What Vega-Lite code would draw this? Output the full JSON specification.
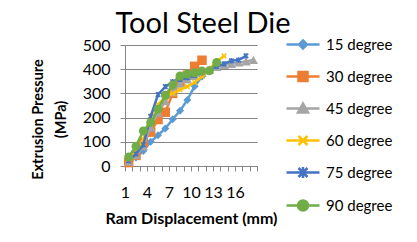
{
  "$schema": "https://vega.github.io/schema/vega-lite/v6.json",
  "autosize": {"type": "none"},
  "padding": {"left": 125, "top": 45, "right": 160, "bottom": 76},
  "width": 132,
  "height": 121,
  "background": "white",
  "config": {
    "font": "Lato",
    "view": {"stroke": null},
    "axis": {"labelFont": "Lato", "titleFont": "Lato", "labelColor": "#000000", "titleColor": "#000000"}
  },
  "title": {
    "text": "Tool Steel Die",
    "font": "Lato",
    "fontSize": 29,
    "fontWeight": "normal",
    "color": "#000000",
    "anchor": "middle",
    "baseline": "alphabetic",
    "offset": -29,
    "dx": 12
  },
  "data": {
    "values": [
      {"series": "15 degree", "x": 1, "y": 15}, {"series": "15 degree", "x": 2, "y": 35}, {"series": "15 degree", "x": 3, "y": 62}, {"series": "15 degree", "x": 4, "y": 100}, {"series": "15 degree", "x": 5, "y": 127}, {"series": "15 degree", "x": 6, "y": 155}, {"series": "15 degree", "x": 7, "y": 193}, {"series": "15 degree", "x": 8, "y": 228}, {"series": "15 degree", "x": 9, "y": 273}, {"series": "15 degree", "x": 10, "y": 330}, {"series": "15 degree", "x": 11, "y": 370}, {"series": "15 degree", "x": 12, "y": 395}, {"series": "15 degree", "x": 13, "y": 418},
      {"series": "30 degree", "x": 1, "y": 14}, {"series": "30 degree", "x": 2, "y": 44}, {"series": "30 degree", "x": 3, "y": 98}, {"series": "30 degree", "x": 4, "y": 140}, {"series": "30 degree", "x": 5, "y": 192}, {"series": "30 degree", "x": 6, "y": 222}, {"series": "30 degree", "x": 7, "y": 300}, {"series": "30 degree", "x": 8, "y": 345}, {"series": "30 degree", "x": 9, "y": 375}, {"series": "30 degree", "x": 10, "y": 412}, {"series": "30 degree", "x": 11, "y": 437},
      {"series": "45 degree", "x": 1, "y": 18}, {"series": "45 degree", "x": 2, "y": 45}, {"series": "45 degree", "x": 3, "y": 82}, {"series": "45 degree", "x": 4, "y": 160}, {"series": "45 degree", "x": 5, "y": 220}, {"series": "45 degree", "x": 6, "y": 268}, {"series": "45 degree", "x": 7, "y": 305}, {"series": "45 degree", "x": 8, "y": 340}, {"series": "45 degree", "x": 9, "y": 358}, {"series": "45 degree", "x": 10, "y": 372}, {"series": "45 degree", "x": 11, "y": 385}, {"series": "45 degree", "x": 12, "y": 398}, {"series": "45 degree", "x": 13, "y": 410}, {"series": "45 degree", "x": 14, "y": 418}, {"series": "45 degree", "x": 15, "y": 422}, {"series": "45 degree", "x": 16, "y": 428}, {"series": "45 degree", "x": 17, "y": 432}, {"series": "45 degree", "x": 18, "y": 438},
      {"series": "60 degree", "x": 1, "y": 30}, {"series": "60 degree", "x": 2, "y": 62}, {"series": "60 degree", "x": 3, "y": 110}, {"series": "60 degree", "x": 4, "y": 205}, {"series": "60 degree", "x": 5, "y": 255}, {"series": "60 degree", "x": 6, "y": 283}, {"series": "60 degree", "x": 7, "y": 300}, {"series": "60 degree", "x": 8, "y": 315}, {"series": "60 degree", "x": 9, "y": 328}, {"series": "60 degree", "x": 10, "y": 345}, {"series": "60 degree", "x": 11, "y": 370}, {"series": "60 degree", "x": 12, "y": 400}, {"series": "60 degree", "x": 13, "y": 432}, {"series": "60 degree", "x": 14, "y": 455},
      {"series": "75 degree", "x": 1, "y": 22}, {"series": "75 degree", "x": 2, "y": 50}, {"series": "75 degree", "x": 3, "y": 88}, {"series": "75 degree", "x": 4, "y": 205}, {"series": "75 degree", "x": 5, "y": 295}, {"series": "75 degree", "x": 6, "y": 328}, {"series": "75 degree", "x": 7, "y": 348}, {"series": "75 degree", "x": 8, "y": 358}, {"series": "75 degree", "x": 9, "y": 365}, {"series": "75 degree", "x": 10, "y": 375}, {"series": "75 degree", "x": 11, "y": 385}, {"series": "75 degree", "x": 12, "y": 400}, {"series": "75 degree", "x": 13, "y": 412}, {"series": "75 degree", "x": 14, "y": 422}, {"series": "75 degree", "x": 15, "y": 435}, {"series": "75 degree", "x": 16, "y": 438}, {"series": "75 degree", "x": 17, "y": 455},
      {"series": "90 degree", "x": 1, "y": 37}, {"series": "90 degree", "x": 2, "y": 82}, {"series": "90 degree", "x": 3, "y": 145}, {"series": "90 degree", "x": 4, "y": 180}, {"series": "90 degree", "x": 5, "y": 235}, {"series": "90 degree", "x": 6, "y": 292}, {"series": "90 degree", "x": 7, "y": 335}, {"series": "90 degree", "x": 8, "y": 372}, {"series": "90 degree", "x": 9, "y": 380}, {"series": "90 degree", "x": 10, "y": 385}, {"series": "90 degree", "x": 11, "y": 393}, {"series": "90 degree", "x": 12, "y": 393}, {"series": "90 degree", "x": 13, "y": 428}
    ]
  },
  "encoding": {
    "x": {
      "field": "x", "type": "quantitative",
      "scale": {"domain": [0.5, 18.5], "nice": false, "zero": false},
      "axis": {
        "values": [0.5, 1.5, 2.5, 3.5, 4.5, 5.5, 6.5, 7.5, 8.5, 9.5, 10.5, 11.5, 12.5, 13.5, 14.5, 15.5, 16.5, 17.5, 18.5],
        "labelExpr": "((datum.value - 0.5) % 3 == 0 && datum.value < 17) ? format(datum.value + 0.5, 'd') : ''",
        "labelDx": 3.67,
        "labelFontSize": 16,
        "labelPadding": 13,
        "labelAngle": 0,
        "labelAlign": "center",
        "labelOverlap": false,
        "labelBound": false,
        "labelFlush": false,
        "grid": false,
        "domainColor": "#868686",
        "tickColor": "#868686",
        "tickSize": 5,
        "title": "Ram Displacement  (mm)",
        "titleFontSize": 16,
        "titleFontWeight": "bold",
        "titlePadding": 10
      }
    },
    "y": {
      "field": "y", "type": "quantitative",
      "scale": {"domain": [0, 500], "nice": false},
      "axis": {
        "values": [0, 100, 200, 300, 400, 500],
        "labelFontSize": 16,
        "labelPadding": 10,
        "labelFlush": false,
        "labelBound": false,
        "grid": true,
        "gridColor": "#868686",
        "domainColor": "#868686",
        "tickColor": "#868686",
        "tickSize": 5,
        "title": ["Extrusion Pressure", "(MPa)"],
        "titleFontSize": 14.5,
        "titleFontWeight": "bold",
        "titleLineHeight": 23,
        "titleAlign": "center",
        "titleBaseline": "top",
        "titleX": -94,
        "titleY": 74
      }
    },
    "color": {
      "field": "series", "type": "nominal",
      "scale": {
        "domain": ["15 degree", "30 degree", "45 degree", "60 degree", "75 degree", "90 degree"],
        "range": ["#5B9BD5", "#ED7D31", "#A5A5A5", "#FFC000", "#4472C4", "#70AD47"]
      },
      "legend": {
        "orient": "none",
        "legendX": 166.5,
        "legendY": -12,
        "title": null,
        "padding": 0,
        "symbolSize": 400,
        "symbolStrokeWidth": 2.5,
        "rowPadding": 11,
        "labelOffset": 11.5,
        "labelFont": "Lato",
        "labelFontSize": 15,
        "labelColor": "#000000",
        "labelLimit": 200,
        "encode": {
          "symbols": {
            "update": {
              "shape": {"signal": "datum.value == '15 degree' ? 'M-1.65,0H1.65M0,-0.4L0.4,0L0,0.4L-0.4,0Z' : datum.value == '30 degree' ? 'M-1.65,0H1.65M-0.45,-0.45H0.45V0.45H-0.45Z' : datum.value == '45 degree' ? 'M-1.65,0H1.65M0,-0.5L0.5,0.4L-0.5,0.4Z' : datum.value == '60 degree' ? 'M-1.65,0H1.65M-0.45,-0.45L0.45,0.45M-0.45,0.45L0.45,-0.45' : datum.value == '75 degree' ? 'M-1.65,0H1.65M-0.45,-0.45L0.45,0.45M-0.45,0.45L0.45,-0.45M0,-0.55V0.55' : 'M-1.65,0H1.65M0.5,0A0.5,0.5 0 1 1 -0.5,0A0.5,0.5 0 1 1 0.5,0Z'"},
              "fill": {"signal": "scale('color', datum.value)"},
              "stroke": {"signal": "scale('color', datum.value)"},
              "strokeWidth": {"value": 2.5},
              "opacity": {"value": 1}
            }
          }
        }
      }
    }
  },
  "layer": [
    {"transform": [{"filter": "datum.series == '15 degree'"}], "layer": [
      {"mark": {"type": "line", "strokeWidth": 2.5}},
      {"mark": {"type": "point", "shape": "diamond", "size": 64, "filled": true, "opacity": 1}}
    ]},
    {"transform": [{"filter": "datum.series == '30 degree'"}], "layer": [
      {"mark": {"type": "line", "strokeWidth": 2.5}},
      {"mark": {"type": "point", "shape": "square", "size": 90, "filled": true, "opacity": 1}}
    ]},
    {"transform": [{"filter": "datum.series == '45 degree'"}], "layer": [
      {"mark": {"type": "line", "strokeWidth": 2.5}},
      {"mark": {"type": "point", "shape": "triangle-up", "size": 90, "filled": true, "opacity": 1}}
    ]},
    {"transform": [{"filter": "datum.series == '60 degree'"}], "layer": [
      {"mark": {"type": "line", "strokeWidth": 2.5}},
      {"mark": {"type": "point", "shape": "M-1,-1L1,1M-1,1L1,-1", "size": 20, "filled": false, "strokeWidth": 1.5, "opacity": 1}}
    ]},
    {"transform": [{"filter": "datum.series == '75 degree'"}], "layer": [
      {"mark": {"type": "line", "strokeWidth": 2.5}},
      {"mark": {"type": "point", "shape": "M-1,-1L1,1M-1,1L1,-1M0,-1.2V1.2", "size": 20, "filled": false, "strokeWidth": 1.5, "opacity": 1}}
    ]},
    {"transform": [{"filter": "datum.series == '90 degree'"}], "layer": [
      {"mark": {"type": "line", "strokeWidth": 2.5}},
      {"mark": {"type": "point", "shape": "circle", "size": 80, "filled": true, "opacity": 1}}
    ]}
  ]
}
